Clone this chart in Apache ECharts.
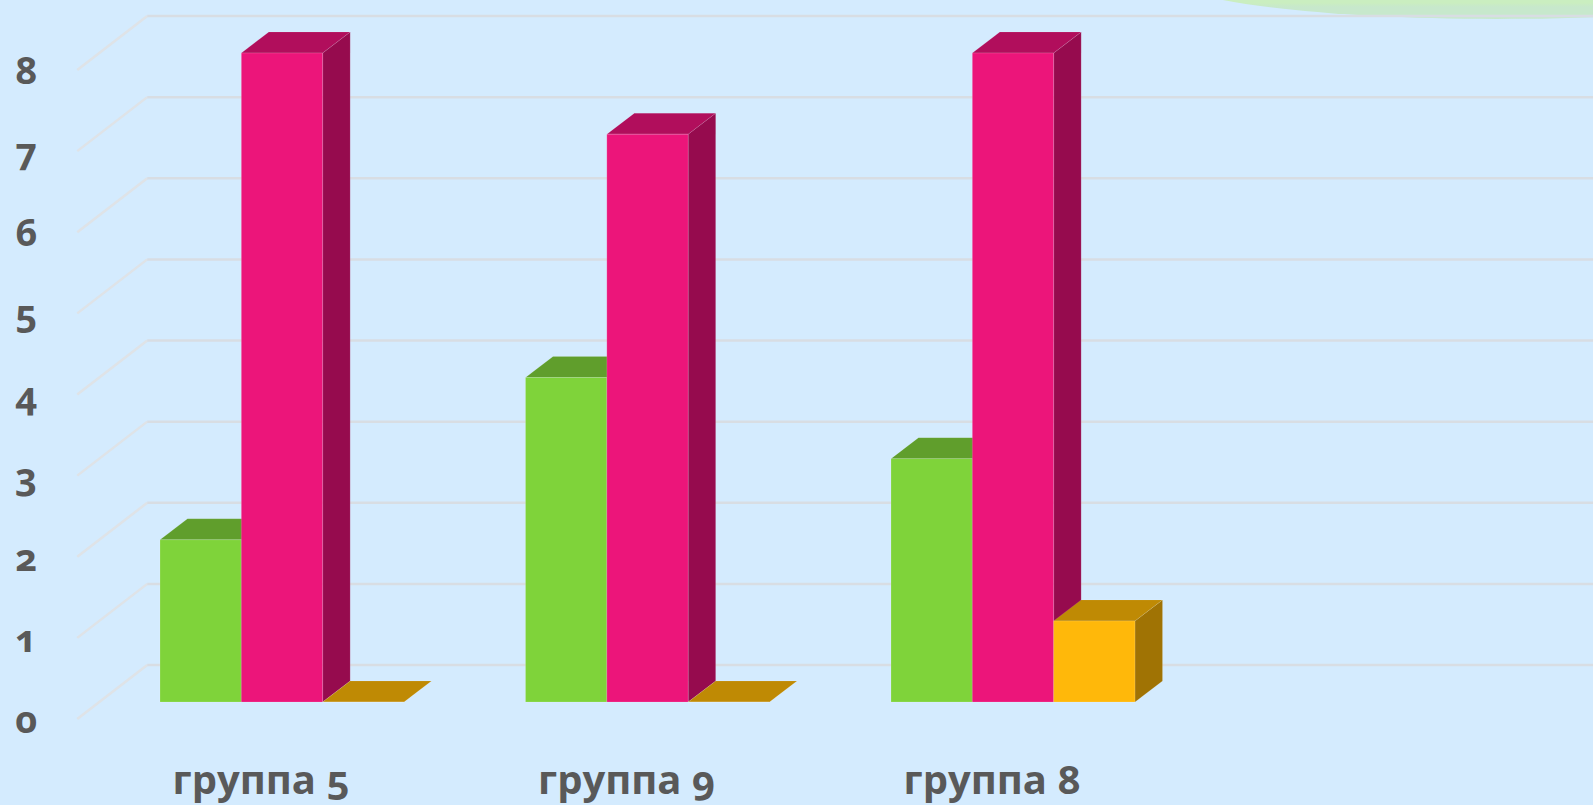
<!DOCTYPE html>
<html>
<head>
<meta charset="utf-8">
<title>группы</title>
<style>
  html, body { margin: 0; padding: 0; background: #d4ebfe; }
  #main { width: 1593px; height: 805px; }
  /* old style figures like the original font */
  #main text { font-feature-settings: "onum" 1 !important; font-variant-numeric: oldstyle-nums !important; }
</style>
<script src="https://cdn.jsdelivr.net/npm/echarts@6/dist/echarts.min.js"></script>
</head>
<body>
<div id="main"></div>
<script>
var groups = ['группа 5', 'группа 9', 'группа 8', ''];
var greenValues = [2, 4, 3];
var pinkValues = [8, 7, 8];
var yellowValues = [0, 0, 1];
var yTicks = [0, 1, 2, 3, 4, 5, 6, 7, 8];

var fontName = '"Open Sans", "Noto Sans", sans-serif';
var textColor = '#595959';

// 3d depth of the bars and of the wall
var depthX = 27.5, depthY = 21;
var wallX = 70, wallFront = 17, wallBack = 37;

function boxItem(slot, front, top, side) {
  return function (params, api) {
    var base = api.coord([api.value(0), 0]);
    var head = api.coord([api.value(0), api.value(1)]);
    var band = api.size([1, 0])[0];
    var w = band * 0.2225;
    var x0 = base[0] - band / 2 + band * 0.2237 + slot * w;
    var x1 = x0 + w;
    var y0 = base[1], y1 = head[1];
    var edge = 'rgba(255,255,255,0.1)';
    return {
      type: 'group',
      children: [
        {type: 'polygon', shape: {points: [[x1, y0], [x1 + depthX, y0 - depthY], [x1 + depthX, y1 - depthY], [x1, y1]]}, style: {fill: side, stroke: edge, lineWidth: 1}},
        {type: 'polygon', shape: {points: [[x0, y1], [x1, y1], [x1 + depthX, y1 - depthY], [x0 + depthX, y1 - depthY]]}, style: {fill: top, stroke: edge, lineWidth: 1}},
        {type: 'rect', shape: {x: x0, y: y1, width: w, height: y0 - y1}, style: {fill: front, stroke: 'rgba(255,255,255,0.15)', lineWidth: 1}}
      ]
    };
  };
}

function gridItem(params, api) {
  var p = api.coord([0, api.value(0)]);
  var left = p[0] - api.size([1, 0])[0] / 2 - 1;
  var y = p[1];
  return {
    type: 'group',
    children: [
      {type: 'polyline', shape: {points: [[left, y + wallFront], [left + wallX, y - wallBack]]}, style: {fill: 'none', stroke: '#dfe3e7', lineWidth: 2.5}},
      {type: 'polyline', shape: {points: [[left + wallX, y - wallBack], [api.getWidth(), y - wallBack]]}, style: {fill: 'none', stroke: '#d8dde3', lineWidth: 2.5}}
    ]
  };
}

function pairs(values) {
  return values.map(function (v, i) { return [i, v]; });
}

var option = {
  animation: false,
  backgroundColor: '#d4ebfe',
  graphic: [{
    type: 'ellipse',
    z: 0,
    shape: {cx: 1497, cy: -21, rx: 322, ry: 40},
    style: {
      fill: new echarts.graphic.LinearGradient(0, 0, 0, 1, [
        {offset: 0.8, color: '#caeec0'},
        {offset: 0.85, color: '#c7e8cc'},
        {offset: 1, color: '#c7e8cc'}
      ])
    }
  }],
  grid: {left: 78.25, top: 53, width: 1462, height: 649},
  xAxis: {
    type: 'category',
    data: groups,
    axisLine: {show: false},
    axisTick: {show: false},
    axisLabel: {
      interval: 0,
      margin: 56,
      color: textColor,
      fontFamily: fontName,
      fontWeight: 'bold',
      fontSize: 40
    }
  },
  yAxis: {
    type: 'value',
    min: 0,
    max: 8,
    interval: 1,
    axisLine: {show: false},
    axisTick: {show: false},
    splitLine: {show: false},
    axisLabel: {
      margin: 41,
      color: textColor,
      fontFamily: fontName,
      fontWeight: 'bold',
      fontSize: 38,
      verticalAlign: 'top',
      lineHeight: 32
    }
  },
  series: [
    {type: 'custom', name: 'grid', z: 1, clip: false, silent: true, renderItem: gridItem, data: yTicks.map(function (v) { return [v]; }), encode: {y: 0}},
    {type: 'custom', name: 'green', z: 2, renderItem: boxItem(0, '#7fd33a', '#609e2c', '#4f8424'), data: pairs(greenValues), encode: {x: 0, y: 1}},
    {type: 'custom', name: 'pink', z: 3, renderItem: boxItem(1, '#ec157a', '#b10e5c', '#960b4e'), data: pairs(pinkValues), encode: {x: 0, y: 1}},
    {type: 'custom', name: 'yellow', z: 4, renderItem: boxItem(2, '#ffb80a', '#bf8a04', '#a07304'), data: pairs(yellowValues), encode: {x: 0, y: 1}}
  ]
};

var chart = echarts.init(document.getElementById('main'), null, {renderer: 'svg'});
chart.setOption(option);
</script>
</body>
</html>
